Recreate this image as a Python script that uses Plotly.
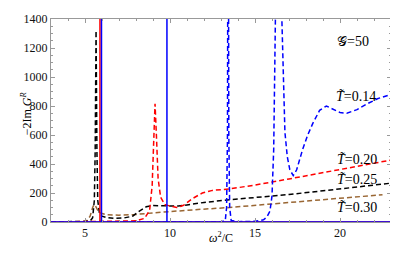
import plotly.graph_objects as go

# ---- data ----
# T=0.14 (blue) and T=0.20 (red) solid: sharp poles
red_solid_x = [3, 5.88, 5.88, 5.88, 23]
red_solid_y = [0, 0, 3000, 0, 0]
blue_solid_x = [3, 5.97, 5.97, 5.97, 9.82, 9.82, 9.82, 23]
blue_solid_y = [0, 0, 3000, 0, 0, 3000, 0, 0]

# T=0.25 dashed black
black_x = [3, 5.0, 5.3, 5.45, 5.55, 5.6, 5.63, 5.65, 5.67, 5.7, 5.75, 5.85, 6.0, 6.3, 6.8, 7.3,
           7.8, 8.2, 8.6, 9.0, 9.5, 10.0, 10.5, 11, 12, 13.5, 15, 17, 19, 21, 23]
black_y = [0, 0, 5, 30, 150, 500, 1000, 1320, 1000, 500, 150, 60, 40, 30, 25, 28,
           40, 75, 105, 113, 112, 108, 110, 118, 135, 153, 167, 190, 215, 240, 268]

# T=0.30 dashed brown
brown_x = [3, 4.8, 5.1, 5.3, 5.45, 5.53, 5.62, 5.75, 5.95, 6.3, 7.0, 8.0, 9.0, 10, 11.5, 13.5,
           16, 18, 20, 22.5]
brown_y = [0, 0, 8, 40, 100, 120, 110, 80, 60, 50, 47, 52, 63, 73, 85, 100,
           125, 145, 165, 188]

# T=0.20 dashed red
red_x = [3, 6.0, 7.0, 8.0, 8.5, 8.8, 8.95, 9.05, 9.12, 9.2, 9.3, 9.45, 9.7, 10.0, 10.4, 10.8,
         11.3, 11.9, 12.5, 13.5, 15, 17, 19, 21, 23]
red_y = [0, 3, 3, 8, 25, 80, 250, 600, 815, 600, 300, 170, 120, 110, 100, 115,
         160, 200, 218, 228, 255, 297, 340, 385, 427]

# T=0.14 dashed blue
blue_x = [3, 13.0, 13.25, 13.33, 13.38, 13.42, 13.46, 13.51, 13.6, 14, 15, 15.5, 15.7, 15.88,
          16.0, 16.1, 16.2, 16.4, 16.58, 16.66, 16.76, 16.9, 17.05, 17.25, 17.45, 17.8,
          18.1, 18.4, 18.8, 19.2, 19.6, 20.0, 20.4, 21, 21.6, 22.2, 23]
blue_y = [0, 0, 10, 100, 600, 3000, 600, 100, 10, 2, 5, 15, 35, 75,
          180, 500, 1400, 3000, 1400, 1080, 620, 450, 360, 320, 360, 500,
          600, 680, 770, 800, 780, 755, 750, 775, 815, 850, 880]

x_ticks = [5, 10, 15, 20]
y_ticks = [0, 200, 400, 600, 800, 1000, 1200, 1400]

labels = ["<i>T̃</i>=0.14", "<i>T̃</i>=0.20", "<i>T̃</i>=0.25", "<i>T̃</i>=0.30"]
label_x = [20.95, 21.0, 21.0, 21.0]
label_y = [867, 433, 293, 100]

BLUE = "#0000ff"
RED = "#ff0000"
BROWN = "#996633"
DASH = "5px,3px"

fig = go.Figure()
fig.add_trace(go.Scatter(x=brown_x, y=brown_y, mode="lines",
                         line=dict(color=BROWN, width=1.5, dash=DASH)))
fig.add_trace(go.Scatter(x=black_x, y=black_y, mode="lines",
                         line=dict(color="black", width=1.5, dash=DASH)))
fig.add_trace(go.Scatter(x=red_x, y=red_y, mode="lines",
                         line=dict(color=RED, width=1.5, dash=DASH)))
fig.add_trace(go.Scatter(x=blue_x, y=blue_y, mode="lines",
                         line=dict(color=BLUE, width=1.5, dash=DASH)))
fig.add_trace(go.Scatter(x=red_solid_x, y=red_solid_y, mode="lines",
                         line=dict(color=RED, width=1.5)))
fig.add_trace(go.Scatter(x=blue_solid_x, y=blue_solid_y, mode="lines",
                         line=dict(color=BLUE, width=1.5)))

SERIF = "Liberation Serif"
for t, lx, ly in zip(labels, label_x, label_y):
    fig.add_annotation(x=lx, y=ly, text=t, showarrow=False,
                       font=dict(family=SERIF, size=14, color="black"))
fig.add_annotation(x=20.76, y=1247, text="𝒢=50", showarrow=False,
                   font=dict(family=SERIF, size=14, color="black"))
fig.add_annotation(xref="paper", yref="paper", x=-0.1, y=0.533,
                   text="−2Im <i>G</i><sup><i>R</i></sup>", textangle=-90,
                   showarrow=False, font=dict(family=SERIF, size=12, color="black"))
fig.add_annotation(xref="paper", yref="paper", x=0.5, y=-0.105, yshift=-4,
                   text="<i>ω</i><sup>2</sup>/C", showarrow=False,
                   font=dict(family=SERIF, size=12, color="black"))

axis_common = dict(showgrid=False, zeroline=False, showline=True, linecolor="#999999",
                   linewidth=1, mirror="ticks", ticks="inside", ticklen=4,
                   tickcolor="#999999", tickwidth=1, ticklabeloverflow="allow",
                   tickfont=dict(family=SERIF, size=12, color="#111111"))
fig.update_xaxes(range=[3, 23], tickvals=x_ticks,
                 minor=dict(ticks="inside", ticklen=2, tickcolor="#999999", dtick=1, tick0=0),
                 **axis_common)
fig.update_yaxes(range=[0, 1400], tickvals=y_ticks,
                 minor=dict(ticks="inside", ticklen=2, tickcolor="#999999", dtick=50, tick0=0),
                 **axis_common)
fig.update_layout(width=390, height=254, showlegend=False,
                  margin=dict(l=43, r=7, t=4, b=40),
                  plot_bgcolor="white", paper_bgcolor="white")
fig.write_html("out.html")
